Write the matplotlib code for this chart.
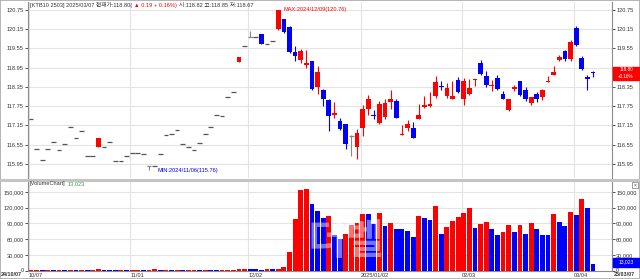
import matplotlib
matplotlib.use('Agg')
import matplotlib.pyplot as plt
from matplotlib import font_manager
from matplotlib.patches import Rectangle


def pick_font(names):
    for name in names:
        try:
            font_manager.findfont(name, fallback_to_default=False)
            return name
        except ValueError:
            pass
    return 'DejaVu Sans'


NARROW = pick_font(['Liberation Sans Narrow', 'Liberation Sans', 'DejaVu Sans'])
plt.rcParams['font.family'] = [NARROW, 'Noto Sans CJK KR', 'DejaVu Sans']

# KTB10 2503 daily candles, 2024/10/07 .. 2025/03/07 (101 trading days)
opens = [
    117.36, 116.43, 116.06, 116.43, 116.64, 116.37, 116.58, 117.11, 116.76, 116.99,
    116.20, 116.20, 116.49, 116.48, 116.64, 116.04, 116.04, 116.20, 116.28, 116.28,
    116.25, 115.87, 115.87, 116.25, 116.84, 116.87, 117.00, 116.58, 116.48, 116.39,
    116.61, 116.87, 117.11, 117.47, 117.44, 118.04, 118.20, 119.14, 119.62, 119.91,
    119.91, 120.00, 119.70, 119.78, 120.15, 120.46, 120.22, 119.44, 119.20, 119.03,
    119.15, 118.34, 118.26, 117.93, 117.49, 117.28, 117.18, 116.82, 116.47, 117.08,
    117.67, 117.49, 117.23, 117.42, 117.89, 117.91, 116.85, 117.08, 117.08, 117.36,
    117.73, 117.75, 118.06, 118.39, 118.08, 117.98, 118.58, 117.96, 118.14, 118.58,
    119.10, 118.68, 118.37, 118.62, 118.12, 117.62, 118.29, 118.53, 118.25, 117.84,
    118.14, 118.04, 118.51, 118.73, 119.18, 119.46, 119.22, 120.18, 119.26, 118.66,
    118.82]
highs = [
    117.36, 116.43, 116.06, 116.43, 116.64, 116.37, 116.58, 117.11, 116.76, 116.99,
    116.20, 116.20, 116.77, 116.48, 116.64, 116.04, 116.04, 116.20, 116.28, 116.28,
    116.25, 115.87, 115.87, 116.25, 116.84, 116.87, 117.00, 116.58, 116.48, 116.39,
    116.61, 116.87, 117.11, 117.47, 117.44, 118.04, 118.20, 119.28, 119.62, 120.10,
    119.91, 120.00, 119.70, 119.78, 120.76, 120.48, 120.24, 119.62, 119.54, 119.51,
    119.17, 118.99, 118.28, 117.96, 117.87, 117.39, 117.20, 116.84, 117.03, 117.80,
    118.09, 117.62, 117.91, 117.96, 118.27, 117.98, 117.15, 117.31, 117.25, 117.83,
    118.06, 118.20, 118.68, 118.53, 118.48, 118.53, 118.66, 118.63, 118.61, 118.61,
    119.20, 118.84, 118.58, 118.71, 118.22, 117.98, 118.42, 118.55, 118.34, 118.05,
    118.18, 118.28, 118.68, 119.00, 119.36, 119.51, 119.80, 120.25, 119.33, 118.71,
    118.85]
lows = [
    117.36, 116.43, 116.06, 116.43, 116.64, 116.37, 116.58, 117.11, 116.76, 116.99,
    116.20, 116.20, 116.49, 116.48, 116.64, 116.04, 116.04, 116.20, 116.28, 116.28,
    116.25, 115.76, 115.87, 116.25, 116.84, 116.87, 117.00, 116.58, 116.48, 116.39,
    116.61, 116.87, 117.11, 117.47, 117.44, 118.04, 118.20, 119.14, 119.62, 119.91,
    119.91, 119.70, 119.70, 119.78, 120.13, 120.04, 119.42, 119.15, 119.10, 118.94,
    118.25, 118.14, 117.77, 116.99, 117.39, 117.00, 116.43, 116.20, 116.11, 116.82,
    117.49, 117.34, 117.18, 117.34, 117.65, 117.37, 116.84, 116.97, 116.75, 117.34,
    117.70, 117.72, 118.01, 118.25, 118.01, 117.96, 118.17, 117.80, 118.10, 118.39,
    118.73, 118.35, 118.22, 118.27, 117.96, 117.60, 118.22, 118.08, 117.92, 117.80,
    117.88, 117.93, 118.50, 118.72, 119.15, 119.15, 119.15, 119.64, 118.87, 118.27,
    118.67]
closes = [
    117.36, 116.43, 116.06, 116.43, 116.64, 116.37, 116.58, 117.11, 116.76, 116.99,
    116.20, 116.20, 116.77, 116.48, 116.64, 116.04, 116.04, 116.20, 116.28, 116.28,
    116.25, 115.87, 115.87, 116.25, 116.84, 116.87, 117.00, 116.58, 116.48, 116.39,
    116.61, 116.87, 117.11, 117.47, 117.44, 118.04, 118.20, 119.28, 119.62, 119.91,
    119.91, 119.70, 119.70, 119.78, 120.75, 120.07, 119.44, 119.33, 119.46, 119.10,
    118.28, 118.83, 117.98, 117.44, 117.54, 117.03, 116.58, 116.82, 116.92, 117.65,
    117.98, 117.44, 117.82, 117.86, 117.96, 117.39, 116.89, 117.21, 116.77, 117.49,
    117.80, 117.82, 118.50, 118.35, 118.32, 118.06, 118.20, 118.53, 118.32, 118.61,
    118.76, 118.42, 118.42, 118.29, 117.98, 117.98, 118.35, 118.11, 117.98, 118.05,
    117.96, 118.25, 118.55, 118.82, 119.29, 119.22, 119.74, 119.66, 118.92, 118.61,
    118.80]
volumes = [
    600, 900, 700, 1100, 800, 1200, 900, 1000, 700, 1300,
    900, 1500, 2200, 1800, 1200, 900, 1300, 800, 1000, 1400,
    900, 1600, 2000, 1100, 1300, 900, 1200, 800, 1000, 1400,
    1100, 1500, 1200, 1000, 1300, 1600, 1900, 2400, 3000, 2600,
    2200, 1800, 2500, 2000, 3200, 6000, 34800, 97800, 154000, 155000,
    128000, 114000, 99700, 105000, 68400, 59600, 69800, 87000, 90000, 108000,
    107500, 89500, 110000, 85000, 90000, 78700, 78500, 75500, 64600, 104700,
    99700, 96500, 123000, 69000, 83700, 94000, 102800, 109000, 119400, 80600,
    88900, 92000, 78700, 67200, 74100, 87000, 74100, 87000, 69800, 90200,
    78700, 67800, 67200, 107400, 92000, 85000, 111200, 106000, 136600, 120000,
    13023]

date_ticks = [0, 18, 39, 59, 77, 97]
date_labels = ['10/07', '11/01', '12/02', '2025/01/02', '02/03', '03/04']
price_ticks = [115.95, 116.55, 117.15, 117.75, 118.35, 118.95, 119.55, 120.15, 120.75]
vol_ticks = [0, 30000, 60000, 90000, 120000, 150000]

RED = '#ff0000'
BLUE = '#0000ff'
DARK = '#333333'
GRID = '#e3e3e3'
AXC = '#8c8c8c'
W, H = 640, 279
FS = 4.1


def fx(px):
    return px / W


def fy(py):
    return 1 - py / H


fig = plt.figure(figsize=(6.4, 2.79), dpi=100)
ax = fig.add_axes([fx(28), fy(178), fx(612) - fx(28), fy(2) - fy(178)])
ax2 = fig.add_axes([fx(28), fy(270.5), fx(612) - fx(28), fy(181) - fy(270.5)])

idx = list(range(len(closes)))
grid_x = [t - 0.35 for t in date_ticks]

# candles
for i in idx:
    o, h, l, c = opens[i], highs[i], lows[i], closes[i]
    if c > o:
        col = RED
    elif c < o:
        col = BLUE
    else:
        col = '#555555' if h == l else '#888888'
    if h > l:
        ax.vlines(i, l, h, color=col, lw=0.8, zorder=2)
    if c == o:
        ax.hlines(c, i - 0.42, i + 0.42, color=col, lw=0.9, zorder=3)
    else:
        ax.bar(i, abs(c - o), bottom=min(o, c), width=0.84, color=col,
               linewidth=0, zorder=3)

ax.set_xlim(-0.53, 103.38)
ax.set_ylim(115.51, 121.0)
ax.set_yticks(price_ticks)
ax.set_yticklabels(['%.2f' % v for v in price_ticks])
ax.set_xticks(grid_x)
ax.tick_params(axis='x', length=0, labelbottom=False)
ax.tick_params(axis='y', left=True, right=True, labelleft=True, labelright=True,
               length=2, width=0.6, pad=1, labelsize=FS, colors=DARK)
# the current-price box on the right hides this label
for tk, v in zip(ax.yaxis.get_major_ticks(), price_ticks):
    if v == 118.95:
        tk.label2.set_visible(False)
ax.grid(True, color=GRID, lw=0.8, zorder=0)
ax.set_axisbelow(True)
for s in ['top', 'bottom']:
    ax.spines[s].set_visible(False)
for s in ['left', 'right']:
    ax.spines[s].set_color(AXC)
    ax.spines[s].set_linewidth(0.8)

ax.text(44.9, 120.76, 'MAX:2024/12/09(120.76)', color=RED, fontsize=FS,
        ha='left', va='center')
ax.text(22.5, 115.75, 'MIN:2024/11/06(115.76)', color=BLUE, fontsize=FS,
        ha='left', va='center')

# volume
vcols = [RED] + [RED if volumes[k] > volumes[k - 1] else BLUE for k in idx[1:]]
ax2.bar(idx, volumes, width=0.86, color=vcols, linewidth=0, zorder=3)
ax2.set_xlim(-0.53, 103.38)
ax2.set_ylim(0, 171000)
ax2.set_yticks(vol_ticks)
ax2.set_yticklabels(['{:,}'.format(v) for v in vol_ticks])
ax2.set_xticks(grid_x)
ax2.set_xticklabels(date_labels)
for lb in ax2.get_xticklabels():
    lb.set_ha('left')
ax2.tick_params(axis='x', length=0, pad=1.5, labelsize=FS, colors=DARK)
ax2.tick_params(axis='y', left=True, right=True, labelleft=True, labelright=True,
                length=2, width=0.6, pad=1, labelsize=FS, colors=DARK)
ax2.grid(True, color=GRID, lw=0.8, zorder=0)
ax2.set_axisbelow(True)
ax2.spines['top'].set_visible(False)
for s in ['left', 'right', 'bottom']:
    ax2.spines[s].set_color(AXC)
    ax2.spines[s].set_linewidth(0.8)

ax2.text(0.545, 0.32, '더벨', transform=ax2.transAxes, fontsize=30,
         family=['Noto Sans CJK KR'], fontweight='bold', color='white',
         alpha=0.45, ha='center', va='center', zorder=5)

# panel separator and frame
fig.add_artist(plt.Line2D([0, 1], [fy(179.5), fy(179.5)], color='#c4c4c4', lw=2.2))
fig.add_artist(Rectangle((0, 0), 1, 1, transform=fig.transFigure, fill=False,
                         edgecolor='#a8a8a8', lw=1.2))

renderer = fig.canvas.get_renderer()


def text_row(x0, y0, parts, size):
    # place coloured pieces one after another on a line
    x = fx(x0)
    for s, col in parts:
        t = fig.text(x, fy(y0), s, fontsize=size, color=col, va='center')
        bb = t.get_window_extent(renderer)
        x = x + bb.width / W + fx(2)


text_row(30, 5.5, [('[KTB10 2503] 2025/03/07 현재가:118.80(', DARK),
                   ('▲ 0.19 + 0.16%)', RED),
                   ('시:118.82 고:118.85 저:118.67', DARK)], FS)
text_row(30, 184, [('[VolumeChart]', DARK), ('13,023', '#3a9a3a')], FS)

# right side value boxes
fig.add_artist(Rectangle((fx(613), fy(79.5)), fx(27), fy(66.5) - fy(79.5),
                         transform=fig.transFigure, color=RED))
fig.text(fx(626), fy(69.6), '118.80', fontsize=3.3, color='white', ha='center', va='center')
fig.text(fx(626), fy(76.4), '+0.16%', fontsize=3.3, color='white', ha='center', va='center')
fig.add_artist(Rectangle((fx(613), fy(266.5)), fx(27), fy(257.5) - fy(266.5),
                         transform=fig.transFigure, color=BLUE))
fig.text(fx(626), fy(262), '13,023', fontsize=3.6, color='white', ha='center', va='center')
fig.add_artist(Rectangle((fx(632), fy(188)), fx(6), fy(182) - fy(188),
                         transform=fig.transFigure, fill=False, edgecolor=AXC, lw=0.6))
fig.text(fx(635), fy(185), '×', fontsize=3.6, color=DARK, ha='center', va='center')

# first / last date
fig.text(fx(1), fy(274.5), '24/10/07', fontsize=3.9, fontweight='bold', color=DARK,
         va='center')
fig.text(fx(614), fy(274.5), '25/03/07', fontsize=3.9, fontweight='bold', color=DARK,
         va='center')

fig.savefig('out.png', dpi=100)
